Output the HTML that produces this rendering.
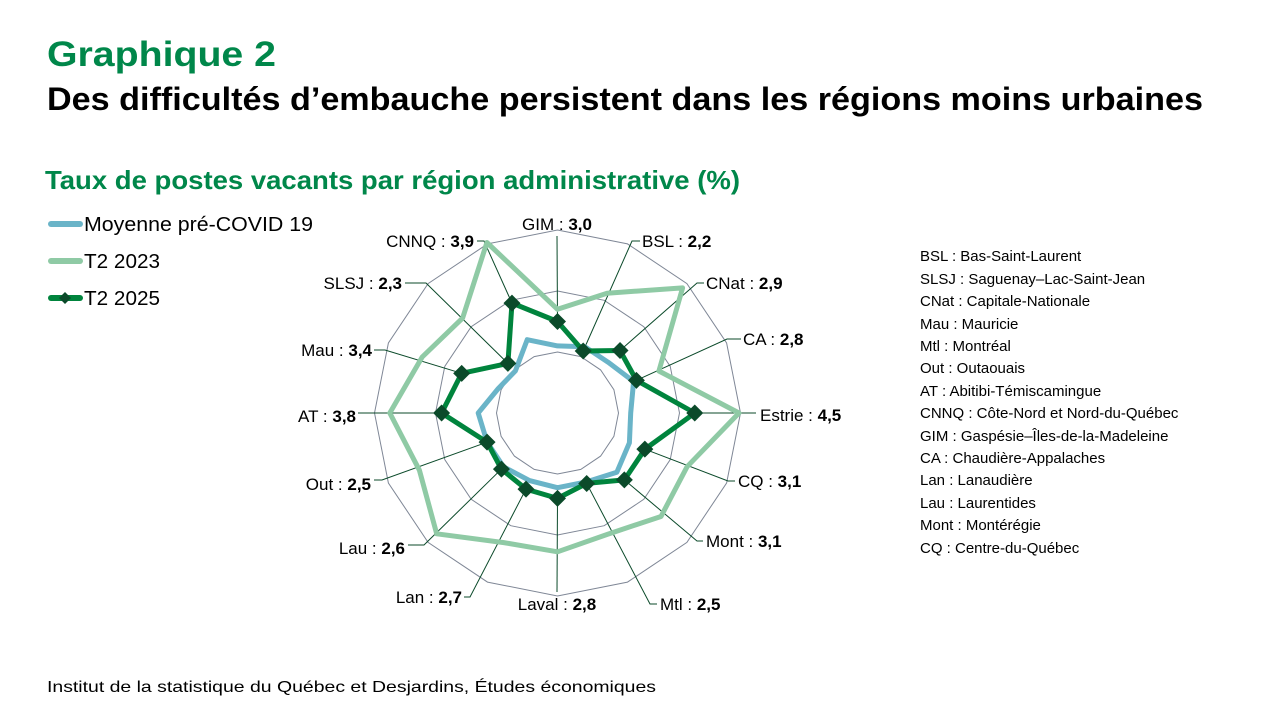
<!DOCTYPE html>
<html><head><meta charset="utf-8"><style>
html,body{margin:0;padding:0;background:#fff;}
svg{display:block;font-family:"Liberation Sans",sans-serif;}
</style></head><body>
<svg id="s" width="1280" height="720" viewBox="0 0 1280 720" xmlns="http://www.w3.org/2000/svg">
<text x="47" y="66" font-size="35" font-weight="bold" fill="#00874a" textLength="229" lengthAdjust="spacingAndGlyphs">Graphique 2</text>
<text x="47" y="110" font-size="32" font-weight="bold" fill="#000" textLength="1156" lengthAdjust="spacingAndGlyphs">Des difficultés d’embauche persistent dans les régions moins urbaines</text>
<text x="45" y="189" font-size="26" font-weight="bold" fill="#00874a" textLength="695" lengthAdjust="spacingAndGlyphs">Taux de postes vacants par région administrative (%)</text>
<g stroke-linecap="round">
<line x1="51" y1="224" x2="80" y2="224" stroke="#6ab4c8" stroke-width="6"/>
<line x1="51" y1="261" x2="80" y2="261" stroke="#8fcaa5" stroke-width="6"/>
<line x1="51" y1="298" x2="80" y2="298" stroke="#00843d" stroke-width="6"/>
</g>
<polygon points="65,292 71,298 65,304 59,298" fill="#0b4a2a"/>
<g font-size="20" fill="#000">
<text x="84" y="231" textLength="229" lengthAdjust="spacingAndGlyphs">Moyenne pré-COVID 19</text>
<text x="84" y="268" textLength="76" lengthAdjust="spacingAndGlyphs">T2 2023</text>
<text x="84" y="305" textLength="76" lengthAdjust="spacingAndGlyphs">T2 2025</text>
</g>
<g id="grid" fill="none" stroke="#7f8796" stroke-width="1"></g>
<g id="lead" fill="none" stroke="#0b4a2a" stroke-width="1"></g>
<g id="series"></g>
<g font-size="17" fill="#000">
<text x="557" y="230" text-anchor="middle">GIM : <tspan font-weight="bold">3,0</tspan></text>
<text x="642" y="247">BSL : <tspan font-weight="bold">2,2</tspan></text>
<text x="706" y="289">CNat : <tspan font-weight="bold">2,9</tspan></text>
<text x="743" y="345">CA : <tspan font-weight="bold">2,8</tspan></text>
<text x="760" y="421">Estrie : <tspan font-weight="bold">4,5</tspan></text>
<text x="738" y="487">CQ : <tspan font-weight="bold">3,1</tspan></text>
<text x="706" y="547">Mont : <tspan font-weight="bold">3,1</tspan></text>
<text x="660" y="610">Mtl : <tspan font-weight="bold">2,5</tspan></text>
<text x="557" y="610" text-anchor="middle">Laval : <tspan font-weight="bold">2,8</tspan></text>
<text x="462" y="603" text-anchor="end">Lan : <tspan font-weight="bold">2,7</tspan></text>
<text x="405" y="554" text-anchor="end">Lau : <tspan font-weight="bold">2,6</tspan></text>
<text x="371" y="490" text-anchor="end">Out : <tspan font-weight="bold">2,5</tspan></text>
<text x="356" y="422" text-anchor="end">AT : <tspan font-weight="bold">3,8</tspan></text>
<text x="372" y="356" text-anchor="end">Mau : <tspan font-weight="bold">3,4</tspan></text>
<text x="402" y="289" text-anchor="end">SLSJ : <tspan font-weight="bold">2,3</tspan></text>
<text x="474" y="247" text-anchor="end">CNNQ : <tspan font-weight="bold">3,9</tspan></text>
</g>
<g font-size="15" fill="#000">
<text x="920" y="261">BSL : Bas-Saint-Laurent</text>
<text x="920" y="284">SLSJ : Saguenay–Lac-Saint-Jean</text>
<text x="920" y="306">CNat : Capitale-Nationale</text>
<text x="920" y="329">Mau : Mauricie</text>
<text x="920" y="351">Mtl : Montréal</text>
<text x="920" y="373">Out : Outaouais</text>
<text x="920" y="396">AT : Abitibi-Témiscamingue</text>
<text x="920" y="418">CNNQ : Côte-Nord et Nord-du-Québec</text>
<text x="920" y="441">GIM : Gaspésie–Îles-de-la-Madeleine</text>
<text x="920" y="463">CA : Chaudière-Appalaches</text>
<text x="920" y="485">Lan : Lanaudière</text>
<text x="920" y="508">Lau : Laurentides</text>
<text x="920" y="530">Mont : Montérégie</text>
<text x="920" y="553">CQ : Centre-du-Québec</text>
</g>
<text x="47" y="692" font-size="16" fill="#000" textLength="609" lengthAdjust="spacingAndGlyphs">Institut de la statistique du Québec et Desjardins, Études économiques</text>
</svg>
<script>
(function(){
var cx=557.5,cy=413,k=30.5,NS="http://www.w3.org/2000/svg";
function pt(i,v){var a=i*Math.PI/8;return [cx+Math.sin(a)*v*k,cy-Math.cos(a)*v*k];}
function poly(vals){return vals.map(function(v,i){var p=pt(i,v);return p[0].toFixed(1)+","+p[1].toFixed(1);}).join(" ");}
function el(parent,tag,attrs){var e=document.createElementNS(NS,tag);for(var a in attrs)e.setAttribute(a,attrs[a]);document.getElementById(parent).appendChild(e);return e;}
[2,4,6].forEach(function(r){el("grid","polygon",{points:poly(new Array(16).fill(r))});});
var pre=[2.2,2.35,2.35,2.7,2.4,2.55,2.75,2.45,2.45,2.4,2.5,2.5,2.6,2.1,1.95,2.6];
var t23=[3.4,4.25,5.8,3.6,5.95,4.6,4.8,4.3,4.55,4.6,5.6,4.9,5.5,4.8,4.4,6.05];
var t25=[3.0,2.2,2.9,2.8,4.5,3.1,3.1,2.5,2.8,2.7,2.6,2.5,3.8,3.4,2.3,3.9];
var ends=[[557,236,557,236],[632,241,640,241],[697,283,704,283],[727,339,741,339],[740,413,756,413],[728,481,735,481],[697,541,703,541],[650,604,657,604],[557,592,557,592],[470,597,464,597],[424,545,408,545],[382,480,374,480],[375,413,358,413],[385,350,374,350],[426,283,405,283],[484,241,477,241]];
ends.forEach(function(e,i){var p=pt(i,t25[i]);el("lead","polyline",{points:p[0]+","+p[1]+" "+e[0]+","+e[1]+" "+e[2]+","+e[3]});});
el("series","polygon",{points:poly(pre),fill:"none",stroke:"#6ab4c8","stroke-width":5,"stroke-linejoin":"round"});
el("series","polygon",{points:poly(t23),fill:"none",stroke:"#8fcaa5","stroke-width":5,"stroke-linejoin":"round"});
el("series","polygon",{points:poly(t25),fill:"none",stroke:"#00843d","stroke-width":5,"stroke-linejoin":"round"});
t25.forEach(function(v,i){var p=pt(i,v),d=8.5;el("series","polygon",{points:(p[0])+","+(p[1]-d)+" "+(p[0]+d)+","+p[1]+" "+p[0]+","+(p[1]+d)+" "+(p[0]-d)+","+p[1],fill:"#0b4a2a"});});
})();
</script>
</body></html>
